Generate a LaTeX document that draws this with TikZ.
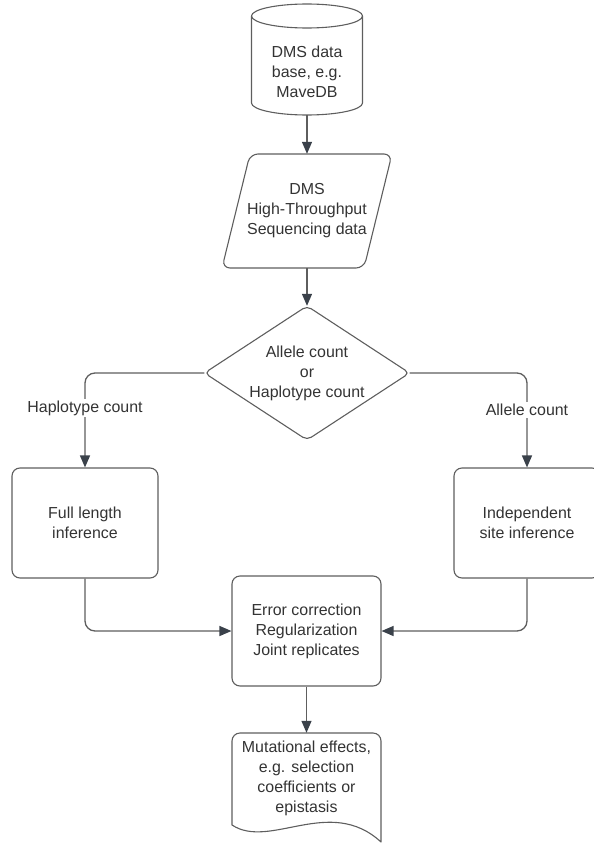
\documentclass[tikz,border=0pt]{standalone}
\usepackage{fontspec}
\setmainfont{Liberation Sans}
\usetikzlibrary{arrows.meta}
\definecolor{linecol}{HTML}{5E5E5E}
\definecolor{tipcol}{HTML}{3A414A}
\definecolor{txtcol}{HTML}{333333}
\begin{document}
\begin{tikzpicture}[x=1bp,y=-1bp,
  txt/.style={font=\fontsize{16}{20}\selectfont, text=txtcol, align=center, inner sep=0pt},
  shapeline/.style={draw=linecol, line width=1.1bp, line join=round},
  conn/.style={draw=linecol, line width=1.3bp, -{Triangle[length=12bp,width=10bp,color=tipcol]}, rounded corners=10bp},
  boxnode/.style={txt, shapeline, rectangle, rounded corners=8bp, minimum width=146bp, minimum height=110bp},
  lbl/.style={txt, fill=white, inner sep=2bp}]
\useasboundingbox (0,0) rectangle (594,844);

% database cylinder
\node[txt, minimum width=111bp, minimum height=87bp] (db) at (307,71.5) {DMS data\\base, e.g.\\MaveDB};
\draw[shapeline] (251.5,16) -- (251.5,103) arc[start angle=180, end angle=360, x radius=55.5bp, y radius=12bp] -- (362.5,16);
\draw[shapeline] (307,16) ellipse [x radius=55.5bp, y radius=12bp];

% parallelogram
\node[txt, minimum width=142bp, minimum height=114bp] (par) at (307,211) {DMS\\High-Throughput\\Sequencing data};
\draw[shapeline, rounded corners=8bp] (250,154) -- (392,154) -- (364,268) -- (222,268) -- cycle;

% decision diamond
\node[txt, minimum width=205bp, minimum height=134bp] (dia) at (307,373) {Allele count\\or\\Haplotype count};
\draw[shapeline, rounded corners=5bp] (307,306) -- (409.5,373) -- (307,440) -- (204.5,373) -- cycle;

% boxes
\node[boxnode] (lbox) at (85,523) {Full length\\inference};
\node[boxnode] (rbox) at (527,523) {Independent\\site inference};
\node[boxnode, minimum width=149bp] (err) at (306.5,631) {Error correction\\Regularization\\Joint replicates};

% document shape
\node[txt, minimum width=149bp, minimum height=90bp] (doc) at (306.5,778) {Mutational effects,\\e.g. selection\\coefficients or\\epistasis};
\draw[shapeline] (232,825) [rounded corners=8bp] -- (232,733) -- (381,733) [sharp corners] -- (381,842)
  .. controls (330,795) and (270,850) .. (232,825);

% connectors
\draw[conn] (db.south) -- (par.north);
\draw[conn] (par.south) -- (dia.north);
\draw[conn] (dia.west) -| (lbox.north);
\draw[conn] (dia.east) -| (rbox.north);
\draw[conn] (lbox.south) |- (err.west);
\draw[conn] (rbox.south) |- (err.east);
\draw[conn] (err.south) -- (doc.north);

% branch labels
\node[lbl] (hl) at (85,408) {Haplotype count};
\node[lbl] (al) at (527,410) {Allele count};
\end{tikzpicture}
\end{document}
